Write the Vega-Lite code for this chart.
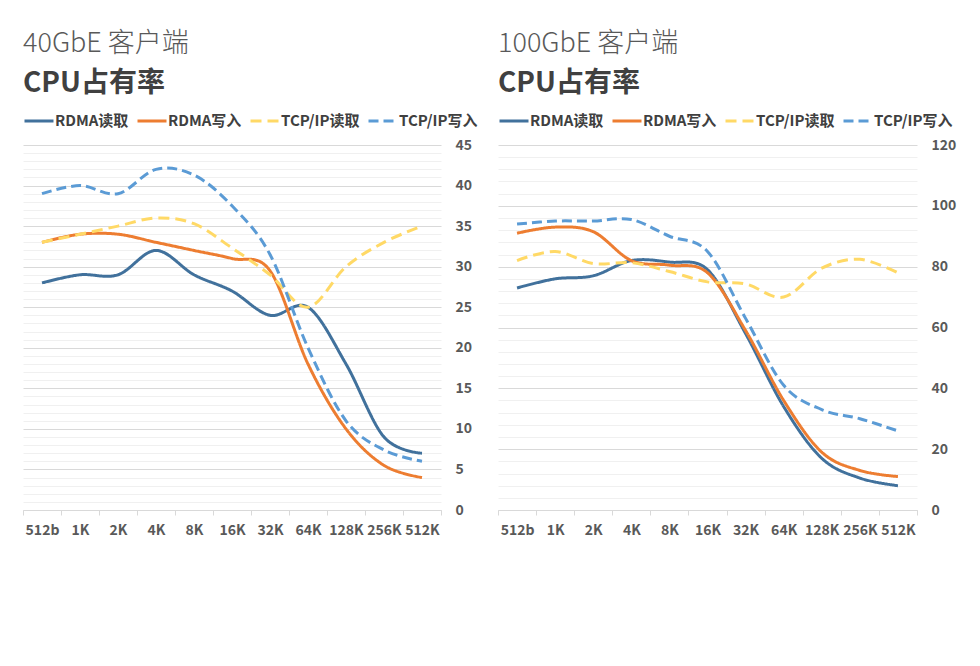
{
  "$schema": "https://vega.github.io/schema/vega-lite/v6.json",
  "background": "white",
  "padding": {"left": 22, "top": 30, "right": 5, "bottom": 5},
  "spacing": 19,
  "config": {
    "font": "Noto Sans CJK SC",
    "view": {"stroke": null},
    "title": {"anchor": "start", "frame": "group", "fontSize": 27, "fontWeight": 300, "color": "#595959", "subtitleFontSize": 28, "subtitleFontWeight": "bold", "subtitleColor": "#404040", "subtitlePadding": 12, "offset": 6, "font": "Noto Sans CJK SC", "subtitleFont": "Noto Sans CJK SC"},
    "legend": {"orient": "top", "direction": "horizontal", "title": null, "labelFontSize": 15, "labelFontWeight": "bold", "labelColor": "#404040", "labelFont": "Noto Sans CJK SC", "symbolType": "stroke", "symbolSize": 841, "symbolStrokeWidth": 3, "columnPadding": 2, "labelOffset": 0, "offset": 16, "padding": 0}
  },
  "datasets": {
    "d40": [
      {"size": "512b", "series": "RDMA读取", "v": 28}, {"size": "1K", "series": "RDMA读取", "v": 29}, {"size": "2K", "series": "RDMA读取", "v": 29}, {"size": "4K", "series": "RDMA读取", "v": 32}, {"size": "8K", "series": "RDMA读取", "v": 29}, {"size": "16K", "series": "RDMA读取", "v": 27}, {"size": "32K", "series": "RDMA读取", "v": 24}, {"size": "64K", "series": "RDMA读取", "v": 25}, {"size": "128K", "series": "RDMA读取", "v": 18}, {"size": "256K", "series": "RDMA读取", "v": 9}, {"size": "512K", "series": "RDMA读取", "v": 7},
      {"size": "512b", "series": "RDMA写入", "v": 33}, {"size": "1K", "series": "RDMA写入", "v": 34}, {"size": "2K", "series": "RDMA写入", "v": 34}, {"size": "4K", "series": "RDMA写入", "v": 33}, {"size": "8K", "series": "RDMA写入", "v": 32}, {"size": "16K", "series": "RDMA写入", "v": 31}, {"size": "32K", "series": "RDMA写入", "v": 29.5}, {"size": "64K", "series": "RDMA写入", "v": 18}, {"size": "128K", "series": "RDMA写入", "v": 10}, {"size": "256K", "series": "RDMA写入", "v": 5.5}, {"size": "512K", "series": "RDMA写入", "v": 4},
      {"size": "512b", "series": "TCP/IP读取", "v": 33}, {"size": "1K", "series": "TCP/IP读取", "v": 34}, {"size": "2K", "series": "TCP/IP读取", "v": 35}, {"size": "4K", "series": "TCP/IP读取", "v": 36}, {"size": "8K", "series": "TCP/IP读取", "v": 35.3}, {"size": "16K", "series": "TCP/IP读取", "v": 32.3}, {"size": "32K", "series": "TCP/IP读取", "v": 29}, {"size": "64K", "series": "TCP/IP读取", "v": 25}, {"size": "128K", "series": "TCP/IP读取", "v": 30}, {"size": "256K", "series": "TCP/IP读取", "v": 33}, {"size": "512K", "series": "TCP/IP读取", "v": 35},
      {"size": "512b", "series": "TCP/IP写入", "v": 39}, {"size": "1K", "series": "TCP/IP写入", "v": 40}, {"size": "2K", "series": "TCP/IP写入", "v": 39}, {"size": "4K", "series": "TCP/IP写入", "v": 42}, {"size": "8K", "series": "TCP/IP写入", "v": 41.3}, {"size": "16K", "series": "TCP/IP写入", "v": 37.5}, {"size": "32K", "series": "TCP/IP写入", "v": 31.5}, {"size": "64K", "series": "TCP/IP写入", "v": 20}, {"size": "128K", "series": "TCP/IP写入", "v": 11}, {"size": "256K", "series": "TCP/IP写入", "v": 7.4}, {"size": "512K", "series": "TCP/IP写入", "v": 6}
    ],
    "d100": [
      {"size": "512b", "series": "RDMA读取", "v": 73}, {"size": "1K", "series": "RDMA读取", "v": 76}, {"size": "2K", "series": "RDMA读取", "v": 77}, {"size": "4K", "series": "RDMA读取", "v": 82}, {"size": "8K", "series": "RDMA读取", "v": 81.5}, {"size": "16K", "series": "RDMA读取", "v": 79}, {"size": "32K", "series": "RDMA读取", "v": 58}, {"size": "64K", "series": "RDMA读取", "v": 34}, {"size": "128K", "series": "RDMA读取", "v": 17}, {"size": "256K", "series": "RDMA读取", "v": 10.5}, {"size": "512K", "series": "RDMA读取", "v": 8},
      {"size": "512b", "series": "RDMA写入", "v": 91}, {"size": "1K", "series": "RDMA写入", "v": 93}, {"size": "2K", "series": "RDMA写入", "v": 91.5}, {"size": "4K", "series": "RDMA写入", "v": 82}, {"size": "8K", "series": "RDMA写入", "v": 80.5}, {"size": "16K", "series": "RDMA写入", "v": 78}, {"size": "32K", "series": "RDMA写入", "v": 59}, {"size": "64K", "series": "RDMA写入", "v": 36}, {"size": "128K", "series": "RDMA写入", "v": 19}, {"size": "256K", "series": "RDMA写入", "v": 13}, {"size": "512K", "series": "RDMA写入", "v": 11},
      {"size": "512b", "series": "TCP/IP读取", "v": 82}, {"size": "1K", "series": "TCP/IP读取", "v": 85}, {"size": "2K", "series": "TCP/IP读取", "v": 81}, {"size": "4K", "series": "TCP/IP读取", "v": 81.3}, {"size": "8K", "series": "TCP/IP读取", "v": 78.4}, {"size": "16K", "series": "TCP/IP读取", "v": 75}, {"size": "32K", "series": "TCP/IP读取", "v": 74.3}, {"size": "64K", "series": "TCP/IP读取", "v": 70}, {"size": "128K", "series": "TCP/IP读取", "v": 79.5}, {"size": "256K", "series": "TCP/IP读取", "v": 82.4}, {"size": "512K", "series": "TCP/IP读取", "v": 78},
      {"size": "512b", "series": "TCP/IP写入", "v": 94}, {"size": "1K", "series": "TCP/IP写入", "v": 95}, {"size": "2K", "series": "TCP/IP写入", "v": 95}, {"size": "4K", "series": "TCP/IP写入", "v": 95.5}, {"size": "8K", "series": "TCP/IP写入", "v": 90}, {"size": "16K", "series": "TCP/IP写入", "v": 85}, {"size": "32K", "series": "TCP/IP写入", "v": 63}, {"size": "64K", "series": "TCP/IP写入", "v": 41}, {"size": "128K", "series": "TCP/IP写入", "v": 33}, {"size": "256K", "series": "TCP/IP写入", "v": 30}, {"size": "512K", "series": "TCP/IP写入", "v": 26}
    ]
  },
  "hconcat": [
    {
      "title": {"text": "40GbE 客户端", "subtitle": "CPU占有率"},
      "width": 418,
      "height": 365,
      "data": {"name": "d40"},
      "layer": [
        {
          "mark": {"type": "line", "strokeOpacity": 0},
          "encoding": {
            "x": {"field": "size", "type": "ordinal", "sort": ["512b", "1K", "2K", "4K", "8K", "16K", "32K", "64K", "128K", "256K", "512K"], "scale": {"type": "band", "paddingInner": 0, "paddingOuter": 0}, "bandPosition": 0.5, "axis": {"title": null, "tickBand": "extent", "labelAngle": 0, "labelFontSize": 14, "labelFontWeight": "bold", "labelColor": "#595959", "labelPadding": 8, "domainColor": "#d9d9d9", "tickColor": "#d9d9d9", "tickSize": 5, "grid": false}},
            "y": {"field": "v", "type": "quantitative", "scale": {"domain": [0, 45], "nice": false}, "axis": {"orient": "left", "title": null, "labels": false, "ticks": false, "domain": false, "grid": true, "gridColor": "#f0f0f0", "values": [1,2,3,4,6,7,8,9,11,12,13,14,16,17,18,19,21,22,23,24,26,27,28,29,31,32,33,34,36,37,38,39,41,42,43,44]}},
            "detail": {"field": "series"}
          }
        },
        {
          "mark": {"type": "line", "strokeWidth": 3, "interpolate": "cardinal"},
          "encoding": {
            "x": {"field": "size", "type": "ordinal", "sort": ["512b", "1K", "2K", "4K", "8K", "16K", "32K", "64K", "128K", "256K", "512K"], "scale": {"type": "band", "paddingInner": 0, "paddingOuter": 0}, "bandPosition": 0.5, "axis": {"title": null, "tickBand": "extent", "labelAngle": 0, "labelFontSize": 14, "labelFontWeight": "bold", "labelColor": "#595959", "labelPadding": 8, "domainColor": "#d9d9d9", "tickColor": "#d9d9d9", "tickSize": 5, "grid": false}},
            "y": {"field": "v", "type": "quantitative", "scale": {"domain": [0, 45], "nice": false}, "axis": {"orient": "right", "title": null, "values": [0,5,10,15,20,25,30,35,40,45], "labelFontSize": 14, "labelFontWeight": "bold", "labelColor": "#595959", "labelPadding": 14, "domain": false, "ticks": false, "grid": true, "gridColor": "#d9d9d9"}},
            "color": {"field": "series", "type": "nominal", "sort": ["RDMA读取", "RDMA写入", "TCP/IP读取", "TCP/IP写入"], "scale": {"domain": ["RDMA读取", "RDMA写入", "TCP/IP读取", "TCP/IP写入"], "range": ["#41719c", "#ed7d31", "#ffd966", "#5b9bd5"]}},
            "strokeDash": {"field": "series", "type": "nominal", "sort": ["RDMA读取", "RDMA写入", "TCP/IP读取", "TCP/IP写入"], "scale": {"domain": ["RDMA读取", "RDMA写入", "TCP/IP读取", "TCP/IP写入"], "range": [[1, 0], [1, 0], [11, 6], [10, 5]]}}
          }
        }
      ],
      "resolve": {"axis": {"y": "independent"}}
    },
    {
      "title": {"text": "100GbE 客户端", "subtitle": "CPU占有率"},
      "width": 419,
      "height": 365,
      "data": {"name": "d100"},
      "layer": [
        {
          "mark": {"type": "line", "strokeOpacity": 0},
          "encoding": {
            "x": {"field": "size", "type": "ordinal", "sort": ["512b", "1K", "2K", "4K", "8K", "16K", "32K", "64K", "128K", "256K", "512K"], "scale": {"type": "band", "paddingInner": 0, "paddingOuter": 0}, "bandPosition": 0.5, "axis": {"title": null, "tickBand": "extent", "labelAngle": 0, "labelFontSize": 14, "labelFontWeight": "bold", "labelColor": "#595959", "labelPadding": 8, "domainColor": "#d9d9d9", "tickColor": "#d9d9d9", "tickSize": 5, "grid": false}},
            "y": {"field": "v", "type": "quantitative", "scale": {"domain": [0, 120], "nice": false}, "axis": {"orient": "left", "title": null, "labels": false, "ticks": false, "domain": false, "grid": true, "gridColor": "#f0f0f0", "values": [4,8,12,16,24,28,32,36,44,48,52,56,64,68,72,76,84,88,92,96,104,108,112,116]}},
            "detail": {"field": "series"}
          }
        },
        {
          "mark": {"type": "line", "strokeWidth": 3, "interpolate": "cardinal"},
          "encoding": {
            "x": {"field": "size", "type": "ordinal", "sort": ["512b", "1K", "2K", "4K", "8K", "16K", "32K", "64K", "128K", "256K", "512K"], "scale": {"type": "band", "paddingInner": 0, "paddingOuter": 0}, "bandPosition": 0.5, "axis": {"title": null, "tickBand": "extent", "labelAngle": 0, "labelFontSize": 14, "labelFontWeight": "bold", "labelColor": "#595959", "labelPadding": 8, "domainColor": "#d9d9d9", "tickColor": "#d9d9d9", "tickSize": 5, "grid": false}},
            "y": {"field": "v", "type": "quantitative", "scale": {"domain": [0, 120], "nice": false}, "axis": {"orient": "right", "title": null, "values": [0,20,40,60,80,100,120], "labelFontSize": 14, "labelFontWeight": "bold", "labelColor": "#595959", "labelPadding": 14, "domain": false, "ticks": false, "grid": true, "gridColor": "#d9d9d9"}},
            "color": {"field": "series", "type": "nominal", "sort": ["RDMA读取", "RDMA写入", "TCP/IP读取", "TCP/IP写入"], "scale": {"domain": ["RDMA读取", "RDMA写入", "TCP/IP读取", "TCP/IP写入"], "range": ["#41719c", "#ed7d31", "#ffd966", "#5b9bd5"]}},
            "strokeDash": {"field": "series", "type": "nominal", "sort": ["RDMA读取", "RDMA写入", "TCP/IP读取", "TCP/IP写入"], "scale": {"domain": ["RDMA读取", "RDMA写入", "TCP/IP读取", "TCP/IP写入"], "range": [[1, 0], [1, 0], [11, 6], [10, 5]]}}
          }
        }
      ],
      "resolve": {"axis": {"y": "independent"}}
    }
  ],
  "resolve": {"scale": {"y": "independent", "color": "independent", "strokeDash": "independent"}, "legend": {"color": "independent", "strokeDash": "independent"}}
}
